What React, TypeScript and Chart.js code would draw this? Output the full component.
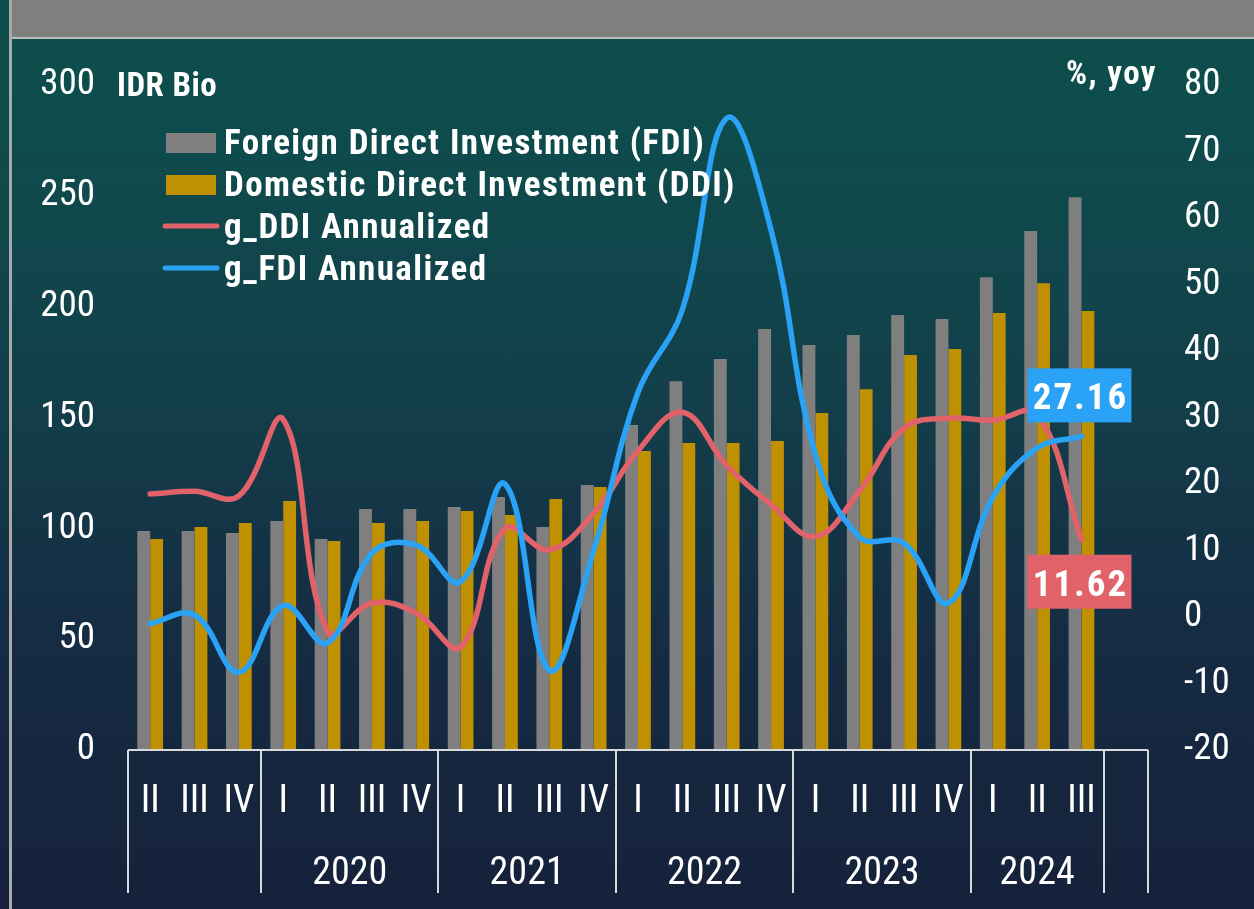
import React, { useEffect, useRef } from "react";
import { Chart, registerables } from "chart.js";

Chart.register(...registerables);

// ---------------- data ----------------
const quarterLabels = ["II", "III", "IV", "I", "II", "III", "IV", "I", "II", "III", "IV", "I", "II", "III", "IV", "I", "II", "III", "IV", "I", "II", "III", ""];
const yearLabels = ["", "2020", "2021", "2022", "2023", "2024", ""];
const yearSpans = [3, 4, 4, 4, 4, 3, 1];

const fdiValues = [98.8, 98.8, 97.9, 103.3, 95.2, 108.7, 108.7, 109.6, 114.1, 100.6, 119.5, 146.6, 166.4, 176.4, 189.9, 182.7, 187.2, 196.2, 194.4, 213.3, 234.1, 249.4, null];
const ddiValues = [95.2, 100.6, 102.4, 112.3, 94.3, 102.4, 103.3, 107.8, 106.0, 113.2, 118.6, 134.9, 138.5, 138.5, 139.4, 152.0, 162.8, 178.2, 180.9, 197.1, 210.6, 198.0, null];
const gDdiValues = [18.5, 18.9, 18.2, 29.7, -2.2, 2.1, 0.6, -4.5, 13.3, 10.1, 15.6, 25.0, 30.8, 22.8, 16.9, 12.1, 19.0, 28.4, 29.9, 29.6, 30.5, 11.62, null];
const gFdiValues = [-1.0, 0.3, -8.3, 1.7, -3.9, 9.6, 10.8, 5.3, 20.0, -8.0, 10.0, 33.8, 46.2, 75.0, 58.2, 24.4, 12.0, 11.1, 2.1, 18.0, 25.4, 27.16, null];

const seriesLabels = [
  "Foreign Direct Investment (FDI)",
  "Domestic Direct Investment (DDI)",
  "g_DDI Annualized",
  "g_FDI Annualized",
];
const leftAxisTitle = "IDR Bio";
const rightAxisTitle = "%, yoy";
const leftMin = 0, leftMax = 300, leftStep = 50;
const rightMin = -20, rightMax = 80, rightStep = 10;

// ---------------- style ----------------
const GRAY = "#7f7f7f";
const GOLD = "#bf9000";
const RED = "#e2626a";
const BLUE = "#2aa2f6";
const AXIS_LINE = "#d9d9d9";
const NARROW = '"Liberation Sans Narrow", "Arial Narrow", "Roboto Condensed", "DejaVu Sans Condensed", sans-serif';

const overlayPlugin = {
  id: "overlay",
  afterDatasetsDraw(chart: any) {
    const ctx = chart.ctx as CanvasRenderingContext2D;
    const boxes = [
      { ds: 3, color: BLUE, above: true },
      { ds: 2, color: RED, above: false },
    ];
    for (const b of boxes) {
      const meta = chart.getDatasetMeta(b.ds);
      const data = chart.data.datasets[b.ds].data as (number | null)[];
      let idx = -1;
      for (let i = data.length - 1; i >= 0; i--) if (data[i] != null) { idx = i; break; }
      if (idx < 0) continue;
      const pt = meta.data[idx];
      const w = 104, h = 54;
      const cx = pt.x - 2;
      const top = b.above ? pt.y - 14 - h : pt.y + 15;
      ctx.save();
      ctx.fillStyle = b.color;
      ctx.fillRect(cx - w / 2, top, w, h);
      ctx.fillStyle = "#ffffff";
      ctx.font = `bold 37px ${NARROW}`;
      (ctx as any).letterSpacing = "2px";
      ctx.textAlign = "center";
      ctx.textBaseline = "alphabetic";
      ctx.fillText((data[idx] as number).toFixed(2), cx + 1, top + 41);
      ctx.restore();
    }
  },
  afterDraw(chart: any) {
    const ctx = chart.ctx as CanvasRenderingContext2D;
    const area = chart.chartArea;
    const xs = chart.scales.x;
    const n = quarterLabels.length;
    const half = (xs.getPixelForValue(1) - xs.getPixelForValue(0)) / 2;
    ctx.save();
    ctx.strokeStyle = AXIS_LINE;
    ctx.lineWidth = 2;
    ctx.beginPath();
    ctx.moveTo(area.left, area.bottom);
    ctx.lineTo(area.right, area.bottom);
    ctx.stroke();
    let start = 0;
    const bounds: number[] = [0];
    for (const s of yearSpans) { start += s; bounds.push(start); }
    ctx.beginPath();
    for (const bIdx of bounds) {
      const x = bIdx >= n ? area.right : xs.getPixelForValue(bIdx) - half;
      ctx.moveTo(Math.round(x), area.bottom);
      ctx.lineTo(Math.round(x), area.bottom + 143);
    }
    ctx.stroke();
    ctx.fillStyle = "#ffffff";
    ctx.font = `38px ${NARROW}`;
    ctx.textAlign = "center";
    ctx.textBaseline = "alphabetic";
    quarterLabels.forEach((q, i) => {
      if (q) ctx.fillText(q, xs.getPixelForValue(i), area.bottom + 62);
    });
    yearLabels.forEach((y, g) => {
      if (!y) return;
      const a = xs.getPixelForValue(bounds[g]) - half;
      const b = xs.getPixelForValue(bounds[g + 1] - 1) + half;
      ctx.fillText(y, (a + b) / 2, area.bottom + 134);
    });
    ctx.font = `bold 33px ${NARROW}`;
    ctx.textAlign = "left";
    (ctx as any).letterSpacing = "0.5px";
    ctx.fillText(leftAxisTitle, 117, 96);
    ctx.textAlign = "right";
    (ctx as any).letterSpacing = "1.5px";
    ctx.fillText(rightAxisTitle, 1157, 84);
    const lx = 166;
    const rows = [141, 184, 226, 268];
    ctx.fillStyle = GRAY;
    ctx.fillRect(lx, 133, 50, 20);
    ctx.fillStyle = GOLD;
    ctx.fillRect(lx, 175, 50, 20);
    ctx.lineCap = "round";
    ctx.lineWidth = 5;
    ctx.strokeStyle = RED;
    ctx.beginPath(); ctx.moveTo(lx - 1, rows[2]); ctx.lineTo(lx + 51, rows[2]); ctx.stroke();
    ctx.strokeStyle = BLUE;
    ctx.beginPath(); ctx.moveTo(lx - 1, rows[3]); ctx.lineTo(lx + 51, rows[3]); ctx.stroke();
    ctx.fillStyle = "#ffffff";
    ctx.font = `bold 35px ${NARROW}`;
    ctx.textAlign = "left";
    (ctx as any).letterSpacing = "1.4px";
    const baselines = [154, 196, 238, 280];
    const legendOrder = [0, 1, 2, 3];
    legendOrder.forEach((i, r) => {
      ctx.fillText(chart.data.datasets[i].label, 224, baselines[r]);
    });
    ctx.restore();
  },
};

export default function App() {
  const ref = useRef<HTMLCanvasElement>(null);
  useEffect(() => {
    document.body.style.margin = "0";
    const canvas = ref.current!;
    const chart = new Chart(canvas, {
      type: "bar",
      data: {
        labels: quarterLabels,
        datasets: [
          { type: "bar", label: seriesLabels[0], data: fdiValues, backgroundColor: GRAY, yAxisID: "y", categoryPercentage: 0.58, barPercentage: 1, order: 3 },
          { type: "bar", label: seriesLabels[1], data: ddiValues, backgroundColor: GOLD, yAxisID: "y", categoryPercentage: 0.58, barPercentage: 1, order: 4 },
          { type: "line", label: seriesLabels[2], data: gDdiValues, borderColor: RED, borderWidth: 5.5, pointRadius: 0, tension: 0.4, yAxisID: "y1", borderCapStyle: "round", borderJoinStyle: "round", order: 2 },
          { type: "line", label: seriesLabels[3], data: gFdiValues, borderColor: BLUE, borderWidth: 5.5, pointRadius: 0, tension: 0.4, yAxisID: "y1", borderCapStyle: "round", borderJoinStyle: "round", order: 1 },
        ] as any,
      },
      options: {
        responsive: false,
        animation: false,
        devicePixelRatio: 1,
        layout: { padding: { top: 85, left: 0, right: 0, bottom: 0 } },
        plugins: { legend: { display: false }, tooltip: { enabled: false } },
        scales: {
          x: {
            grid: { display: false, drawTicks: false },
            border: { display: false },
            ticks: { display: false },
            afterFit: (s: any) => { s.height = 159; },
          },
          y: {
            position: "left",
            min: leftMin,
            max: leftMax,
            grid: { display: false, drawTicks: false },
            border: { display: false },
            ticks: { stepSize: leftStep, color: "#ffffff", font: { family: NARROW, size: 37 }, padding: 33 },
            afterFit: (s: any) => { s.width = 128; },
          },
          y1: {
            position: "right",
            min: rightMin,
            max: rightMax,
            grid: { display: false, drawTicks: false },
            border: { display: false },
            ticks: { stepSize: rightStep, color: "#ffffff", font: { family: NARROW, size: 37 }, padding: 36 },
            afterFit: (s: any) => { s.width = 106; },
          },
        },
      } as any,
      plugins: [overlayPlugin],
    });
    return () => chart.destroy();
  }, []);

  return (
    <div
      style={{
        position: "absolute",
        left: 0,
        top: 0,
        width: 1254,
        height: 909,
        overflow: "hidden",
        background: "linear-gradient(to bottom, #0c4f4c 0%, #0f4a4c 20%, #133e4a 45%, #152c43 70%, #16213b 100%)",
      }}
    >
      <div style={{ position: "absolute", left: 12, top: 0, right: 0, height: 37, background: "#7f7f7f" }} />
      <div style={{ position: "absolute", left: 12, top: 37, right: 0, height: 2, background: "#bdbdbd" }} />
      <div style={{ position: "absolute", left: 9, top: 0, width: 3, height: 909, background: "#a9a9a9" }} />
      <canvas ref={ref} width={1254} height={909} style={{ position: "absolute", left: 0, top: 0, display: "block" }} />
    </div>
  );
}
